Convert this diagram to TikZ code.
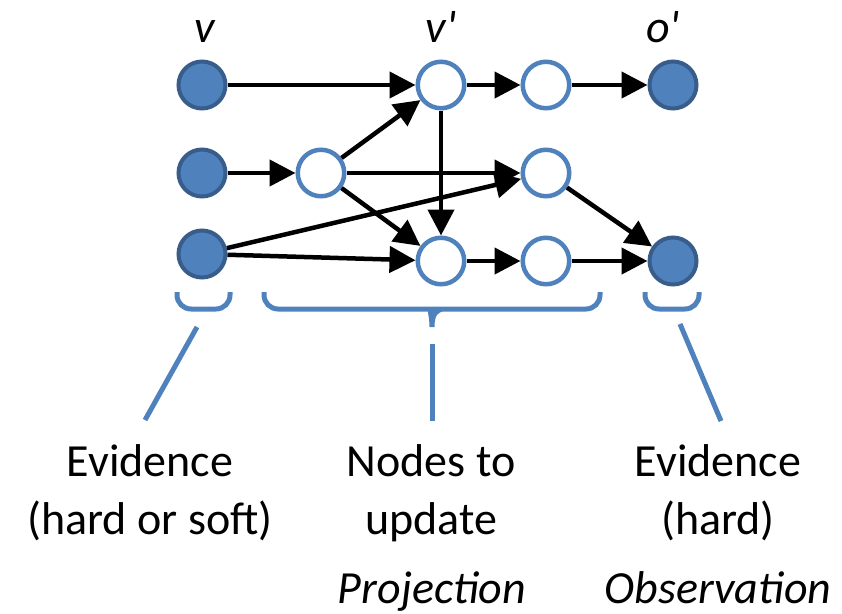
\documentclass[tikz,border=0pt]{standalone}
\usepackage{fontspec}
\setmainfont{Carlito}
% plain family for the variable names, so that ' stays a straight apostrophe
\newfontfamily\varfont{Carlito}
\usetikzlibrary{arrows.meta}
\definecolor{accent}{HTML}{4F81BD}
\definecolor{accentdark}{HTML}{385D8A}
\begin{document}
\begin{tikzpicture}[x=1pt,y=-1pt,
  evid/.style={circle, fill=accent, draw=accentdark, line width=4pt, minimum size=47pt, inner sep=0pt},
  hid/.style={circle, fill=white, draw=accent, line width=4.5pt, minimum size=46.5pt, inner sep=0pt},
  link/.style={line width=4.5pt, -{Triangle[length=26pt,width=26pt]}},
  brace/.style={draw=accent, line width=5pt},
  lbl/.style={font=\fontsize{46}{58}\selectfont, align=center, anchor=base},
  var/.style={font=\fontsize{46}{58}\selectfont\itshape, anchor=base},
  vname/.style={font=\fontsize{46}{58}\varfont\itshape, anchor=base}]
\useasboundingbox (0,0) rectangle (842,613);

% evidence, hidden and observation nodes
\node[evid] (e1) at (202,85) {};
\node[evid] (e2) at (202,173) {};
\node[evid] (e3) at (202,254) {};
\node[hid] (h2) at (321,173) {};
\node[hid] (v1) at (441,85) {};
\node[hid] (h3) at (441,261) {};
\node[hid] (t1) at (546,85) {};
\node[hid] (t2) at (546,173) {};
\node[hid] (t3) at (546,261) {};
\node[evid] (o1) at (673,85) {};
\node[evid] (o2) at (673,261) {};

% dependencies
\draw[link] (e1) -- (v1);
\draw[link] (v1) -- (t1);
\draw[link] (t1) -- (o1);
\draw[link] (e2) -- (h2);
\draw[link] (h2) -- (v1);
\draw[link] (h2) -- (t2);
\draw[link] (h2) -- (h3);
\draw[link] (v1) -- (h3);
\draw[link] (e3) -- (t2);
\draw[link] (e3) -- (h3);
\draw[link] (t2) -- (o2);
\draw[link] (h3) -- (t3);
\draw[link] (t3) -- (o2);

% braces under the groups
\draw[brace, rounded corners=14pt] (177,292) -- (177,309) -- (230,309) -- (230,292);
\draw[brace] (264,292) {[rounded corners=14pt] -- (264,309) -- (419,309)}
  .. controls (428,309) and (432,314) .. (432,327)
  .. controls (432,314) and (436,309) .. (445,309)
  {[rounded corners=14pt] -- (600,309) -- (600,292)};
\draw[brace, rounded corners=14pt] (645,292) -- (645,309) -- (699,309) -- (699,292);

% leader lines from braces to captions
\coordinate (la) at (197,327);
\coordinate (lb) at (145,420);
\coordinate (ma) at (432,344);
\coordinate (mb) at (432,421);
\coordinate (ra) at (680,324);
\coordinate (rb) at (721,421);
\draw[brace] (la) -- (lb);
\draw[brace] (ma) -- (mb);
\draw[brace] (ra) -- (rb);

% captions (base anchor sits on the last line)
\node[lbl] (capl) at (150,534) {Evidence\\(hard or soft)};
\node[lbl] (capm) at (431,534) {Nodes to\\update};
\node[lbl] (capr) at (718,534) {Evidence\\(hard)};
\node[var] (proj) at (432,603) {Projection};
\node[var] (obs) at (718,603) {Observation};

% variable names
\node[vname] (nv) at (205,42) {v};
\node[vname] (nvp) at (441,42) {v'};
\node[vname] (nop) at (663,42) {o'};
\end{tikzpicture}
\end{document}
